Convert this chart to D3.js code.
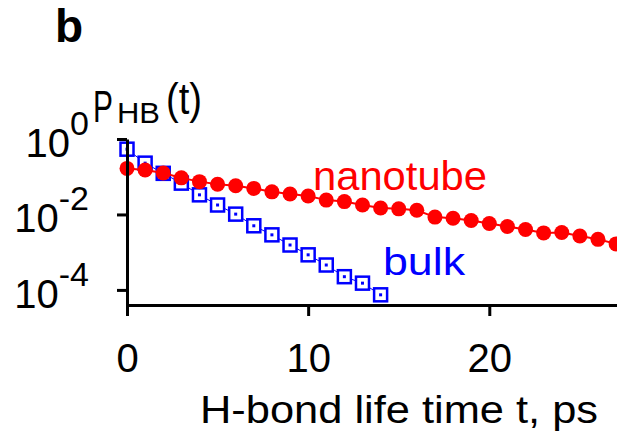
<!DOCTYPE html>
<html>
<head>
<meta charset="utf-8">
<script src="https://cdn.jsdelivr.net/npm/d3@7"></script>
<style>
  body { margin: 0; background: #fff; }
  text { font-family: "Liberation Sans", Arial, sans-serif; }
</style>
</head>
<body>
<div id="chart"></div>
<script>
// H-bond lifetime t (ps)
var nanoTimes = d3.range(0, 28);
var nanoValues = [0.166, 0.151, 0.126, 0.0933, 0.0741, 0.0631, 0.0575, 0.049, 0.0398, 0.0347,
    0.0309, 0.024, 0.0219, 0.0178, 0.0148, 0.0141, 0.0129, 0.00851, 0.00794, 0.00692,
    0.00575, 0.00479, 0.00398, 0.00324, 0.00331, 0.00269, 0.00219, 0.00166];

var bulkTimes = d3.range(0, 15);
var bulkValues = [0.537, 0.229, 0.123, 0.0676, 0.0331, 0.0178, 0.0102, 0.00501, 0.00288,
    0.00155, 0.000851, 0.000457, 0.000224, 0.000151, 0.0000741];

var xTicks = [0, 10, 20];
var yTicks = [1, 1e-2, 1e-4];
var yTickExp = ["0", "-2", "-4"];

var width = 617, height = 433;

var svg = d3.select("#chart").append("svg")
    .attr("width", width)
    .attr("height", height);

var x = d3.scaleLinear().domain([0, 27.05]).range([127, 617]);
var y = d3.scaleLog().domain([Math.pow(10, -4.4), 1]).range([305, 139]);

var nano = nanoTimes.map(function(t, i) { return {t: t, v: nanoValues[i]}; });
var bulk = bulkTimes.map(function(t, i) { return {t: t, v: bulkValues[i]}; });

var line = d3.line()
    .x(function(d) { return x(d.t); })
    .y(function(d) { return y(d.v); });

// bulk: open squares with a centre dot
svg.append("path")
    .datum(bulk)
    .attr("d", line)
    .attr("fill", "none")
    .attr("stroke", "#0000ff")
    .attr("stroke-width", 1);

svg.selectAll(".bulk")
    .data(bulk)
    .enter().append("rect")
    .attr("class", "bulk")
    .attr("x", function(d) { return x(d.t) - 6.5; })
    .attr("y", function(d) { return y(d.v) - 6.5; })
    .attr("width", 13)
    .attr("height", 13)
    .attr("fill", "#fff")
    .attr("stroke", "#0000ff")
    .attr("stroke-width", 2.5);

svg.selectAll(".bulkdot")
    .data(bulk)
    .enter().append("rect")
    .attr("class", "bulkdot")
    .attr("x", function(d) { return x(d.t) - 1.5; })
    .attr("y", function(d) { return y(d.v) - 1.5; })
    .attr("width", 3)
    .attr("height", 3)
    .attr("fill", "#0000ff");

// nanotube: filled dots
svg.append("path")
    .datum(nano)
    .attr("d", line)
    .attr("fill", "none")
    .attr("stroke", "#ff0000")
    .attr("stroke-width", 2);

svg.selectAll(".nano")
    .data(nano)
    .enter().append("circle")
    .attr("class", "nano")
    .attr("cx", function(d) { return x(d.t); })
    .attr("cy", function(d) { return y(d.v); })
    .attr("r", 7.5)
    .attr("fill", "#ff0000");

// axes
var xAxis = d3.axisBottom(x)
    .tickValues(xTicks)
    .tickSize(11)
    .tickSizeOuter(0)
    .tickPadding(28)
    .tickFormat(d3.format("d"));

var gx = svg.append("g")
    .attr("transform", "translate(0,305)")
    .call(xAxis);
gx.select(".domain").attr("stroke-width", 3);
gx.selectAll(".tick line").attr("stroke-width", 3);
gx.selectAll(".tick text")
    .attr("font-size", 40)
    .attr("font-family", "Liberation Sans, Arial, sans-serif")
    .attr("fill", "#000");

var yAxis = d3.axisLeft(y)
    .tickValues(yTicks)
    .tickSize(10)
    .tickSizeOuter(0)
    .tickFormat("");

var gy = svg.append("g")
    .attr("transform", "translate(127,0)")
    .call(yAxis);
gy.select(".domain").attr("stroke-width", 3);
gy.selectAll(".tick line").attr("stroke-width", 3);

// y tick labels as 10^n
var ylab = svg.selectAll(".ylab")
    .data(yTicks)
    .enter().append("text")
    .attr("class", "ylab")
    .attr("text-anchor", "end")
    .attr("x", 89)
    .attr("y", function(d) { return y(d) + 18; });
ylab.append("tspan")
    .attr("font-size", 40)
    .text("10");
ylab.append("tspan")
    .attr("font-size", 34)
    .attr("dy", -22)
    .text(function(d, i) { return yTickExp[i]; });

// axis titles
svg.append("text")
    .attr("x", 200)
    .attr("y", 423)
    .attr("font-size", 39)
    .attr("textLength", 398)
    .attr("lengthAdjust", "spacingAndGlyphs")
    .text("H-bond life time t, ps");

var ptitle = svg.append("g");
ptitle.append("text")
    .attr("transform", "translate(93,122) scale(0.68,1)")
    .attr("font-size", 44)
    .text("P");
ptitle.append("text")
    .attr("x", 117)
    .attr("y", 123)
    .attr("font-size", 29)
    .attr("textLength", 43)
    .attr("lengthAdjust", "spacingAndGlyphs")
    .text("HB");
ptitle.append("text")
    .attr("x", 166)
    .attr("y", 114)
    .attr("font-size", 44)
    .attr("textLength", 36)
    .attr("lengthAdjust", "spacingAndGlyphs")
    .text("(t)");

// series labels
svg.append("text")
    .attr("x", 313)
    .attr("y", 190)
    .attr("font-size", 40)
    .attr("fill", "#ff0000")
    .attr("textLength", 174)
    .attr("lengthAdjust", "spacingAndGlyphs")
    .text("nanotube");

svg.append("text")
    .attr("x", 383)
    .attr("y", 275)
    .attr("font-size", 39)
    .attr("fill", "#0000ff")
    .attr("textLength", 82)
    .attr("lengthAdjust", "spacingAndGlyphs")
    .text("bulk");

// panel letter
svg.append("text")
    .attr("x", 55)
    .attr("y", 42)
    .attr("font-size", 46)
    .attr("font-weight", "bold")
    .text("b");
</script>
</body>
</html>
